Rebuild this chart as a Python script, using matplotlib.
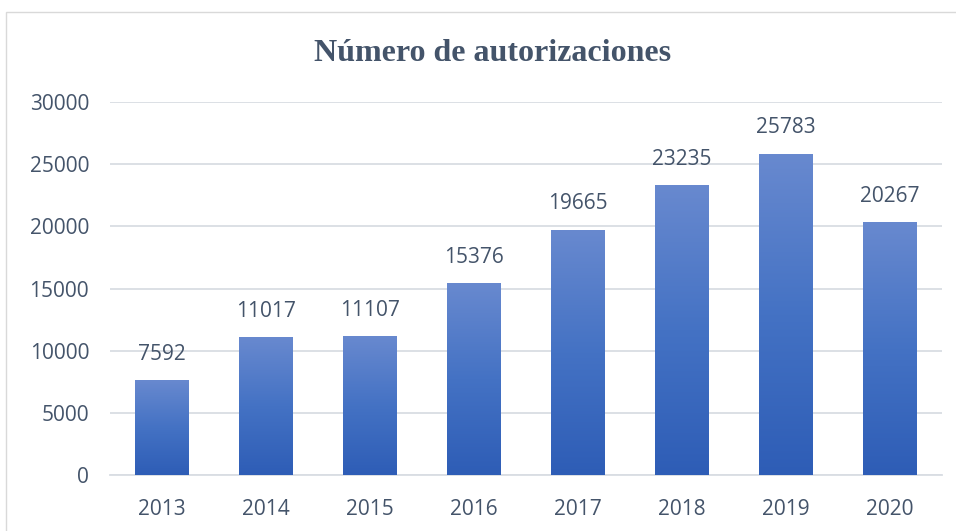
import matplotlib
matplotlib.use("Agg")
import matplotlib.pyplot as plt
import numpy as np
from matplotlib.colors import LinearSegmentedColormap
from matplotlib.patches import Rectangle

years = ["2013", "2014", "2015", "2016", "2017", "2018", "2019", "2020"]
autorizaciones = [7592, 11017, 11107, 15376, 19665, 23235, 25783, 20267]
y_ticks = [0, 5000, 10000, 15000, 20000, 25000, 30000]

text_color = "#44546a"
grid_color = "#d9dde3"
bar_cmap = LinearSegmentedColormap.from_list("bar", ["#2e5db6", "#4472c4", "#6889cf"])

fig = plt.figure(figsize=(9.56, 5.31), dpi=100)
ax = fig.add_axes([0.115, 0.105, 0.87, 0.703])

x = np.arange(len(years))
width = 0.51
bars = ax.bar(x, autorizaciones, width=width, color="none", zorder=3)

# vertical gradient per bar
grad = np.linspace(0, 1, 256).reshape(-1, 1)
for rect in bars:
    x0 = rect.get_x()
    h = rect.get_height()
    ax.imshow(grad, extent=(x0, x0 + width, 0, h), origin="lower",
              cmap=bar_cmap, aspect="auto", zorder=3)

for xi, v in zip(x, autorizaciones):
    ax.text(xi, v + 1300, str(v), ha="center", va="bottom",
            fontsize=15, color=text_color, family="Open Sans")

ax.set_xlim(-0.5, len(years) - 0.5)
ax.set_ylim(0, 30000)
ax.set_xticks(x)
ax.set_xticklabels(years)
ax.set_yticks(y_ticks)
ax.set_yticklabels([str(t) for t in y_ticks])
ax.tick_params(length=0, labelsize=15, colors=text_color)
ax.tick_params(axis="x", pad=17)
ax.tick_params(axis="y", pad=15)
for lab in ax.get_xticklabels() + ax.get_yticklabels():
    lab.set_family("Open Sans")

ax.grid(axis="y", color=grid_color, linewidth=1.3, zorder=0)
ax.set_axisbelow(True)
for side in ["top", "right", "left"]:
    ax.spines[side].set_visible(False)
ax.spines["bottom"].set_color(grid_color)
ax.spines["bottom"].set_linewidth(1.3)

fig.text(0.515, 0.9, "Número de autorizaciones", ha="center", va="center",
         fontsize=23, fontweight="bold", color=text_color, family="Liberation Serif")

# outer chart border
fig.patches.append(Rectangle((0.006, -0.01), 1.0, 0.988, transform=fig.transFigure,
                             fill=False, edgecolor="#d9d9d9", linewidth=1))

fig.savefig("out.png", dpi=100)
